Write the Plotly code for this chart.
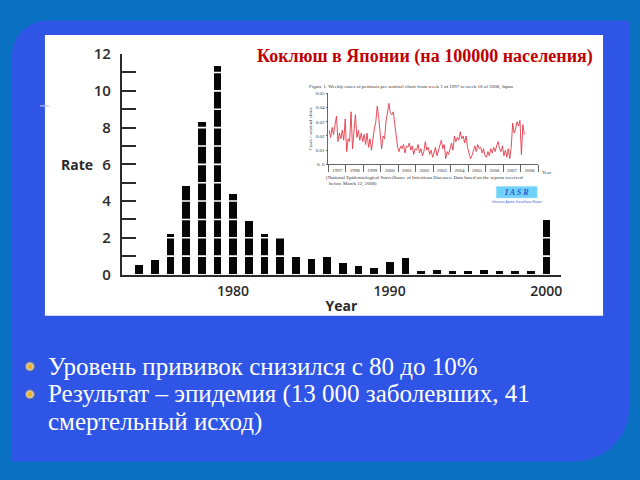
import plotly.graph_objects as go

W, H = 640, 480

# ---------------- data ----------------
bar_years = list(range(1974, 2001))
bar_rates = [0.5, 0.8, 2.2, 4.8, 8.3, 11.35, 4.4, 2.9, 2.2, 2.05,
             1.0, 0.85, 0.95, 0.6, 0.47, 0.37, 0.7, 0.87, 0.16, 0.24,
             0.16, 0.16, 0.26, 0.16, 0.16, 0.16, 2.95]
main_xticks = [1980, 1990, 2000]
rate_ticks = list(range(0, 13))
rate_labels = [str(v) if v % 2 == 0 else "" for v in rate_ticks]

# inset: cases per sentinel clinic, roughly monthly readings 1997-01 .. 2008-03
v1997 = [0.024, 0.019, 0.026, 0.021, 0.028, 0.034, 0.016, 0.022, 0.018, 0.024, 0.017, 0.032]
v1998 = [0.009, 0.018, 0.016, 0.037, 0.011, 0.022, 0.035, 0.019, 0.024, 0.017, 0.022, 0.016]
v1999 = [0.021, 0.014, 0.022, 0.012, 0.018, 0.010, 0.020, 0.025, 0.030, 0.041, 0.033, 0.022]
v2000 = [0.011, 0.020, 0.018, 0.030, 0.038, 0.043, 0.036, 0.035, 0.037, 0.028, 0.020, 0.012]
v2001 = [0.009, 0.013, 0.011, 0.014, 0.008, 0.013, 0.012, 0.015, 0.010, 0.013, 0.007, 0.011]
v2002 = [0.010, 0.014, 0.008, 0.011, 0.006, 0.009, 0.016, 0.010, 0.012, 0.007, 0.010, 0.005]
v2003 = [0.008, 0.012, 0.006, 0.010, 0.014, 0.017, 0.011, 0.014, 0.004, 0.009, 0.007, 0.012]
v2004 = [0.015, 0.010, 0.020, 0.016, 0.019, 0.017, 0.023, 0.018, 0.020, 0.015, 0.020, 0.012]
v2005 = [0.008, 0.004, 0.006, 0.010, 0.013, 0.009, 0.014, 0.011, 0.012, 0.008, 0.011, 0.006]
v2006 = [0.005, 0.009, 0.006, 0.011, 0.008, 0.012, 0.009, 0.013, 0.016, 0.011, 0.009, 0.013]
v2007 = [0.006, 0.010, 0.005, 0.011, 0.004, 0.012, 0.029, 0.022, 0.025, 0.030, 0.027, 0.031]
v2008 = [0.007, 0.028, 0.021]
inset_vals = v1997 + v1998 + v1999 + v2000 + v2001 + v2002 + v2003 + v2004 + v2005 + v2006 + v2007 + v2008
inset_start = 1997
inset_t = [inset_start + (i + 0.5) / 12 for i in range(len(inset_vals))]
inset_years = list(range(1997, 2009))
inset_yticks = [0, 0.01, 0.02, 0.03, 0.04, 0.05]
inset_ylabels = ["0. 0", "0.01", "0.02", "0.03", "0.04", "0.05"]

title_text = "Коклюш в Японии (на 100000 населения)"
fig_caption = "Figure 1. Weekly cases of pertussis per sentinel clinic from week 1 of 1997 to week 10 of 2008, Japan"
src_line1 = "(National Epidemiological Surveillance of Infectious Diseases: Data based on the reports received"
src_line2 = "before March 12, 2008)"
bullets = ["Уровень прививок снизился с 80 до 10%",
           "Результат – эпидемия (13 000 заболевших, 41",
           "смертельный исход)"]


def px(x):
    return x / W


def py(y):
    return 1 - y / H


# ---------------- figure ----------------
fig = go.Figure()
fig.add_trace(go.Bar(x=bar_years, y=bar_rates, width=0.5, marker=dict(color="#060606", line=dict(width=0)),
                     xaxis="x", yaxis="y", showlegend=False, hoverinfo="skip"))
fig.add_trace(go.Scatter(x=inset_t, y=inset_vals, mode="lines", line=dict(color="#e23a48", width=0.9),
                         xaxis="x2", yaxis="y2", showlegend=False, hoverinfo="skip"))

# background shapes
k = 0.5523
r1, r2 = 36, 55
L, T, R, B = 12, 10, 630, 470
pts = [
    ("M", [(L, T + r1)]),
    ("L", [(L, B)]),
    ("L", [(R - r2, B)]),
    ("C", [(R - r2 + k * r2, B), (R, B - r2 + k * r2), (R, B - r2)]),
    ("L", [(R, T)]),
    ("L", [(L + r1, T)]),
    ("C", [(L + r1 - k * r1, T), (L, T + r1 - k * r1), (L, T + r1)]),
]
path = ""
for cmd, ps in pts:
    path += cmd + " " + " ".join(f"{px(a):.5f},{py(b):.5f}" for a, b in ps) + " "
path += "Z"

shapes = [
    dict(type="path", path=path, xref="paper", yref="paper", fillcolor="#2f55e6", line=dict(width=0), layer="below"),
    dict(type="rect", xref="paper", yref="paper", x0=px(45), x1=px(604), y0=py(318), y1=py(25),
         fillcolor="#ffffff", line=dict(width=0), layer="below"),
    dict(type="line", xref="paper", yref="paper", x0=px(40), x1=px(49), y0=py(99), y1=py(99),
         line=dict(color="#b8c4ea", width=1.2), layer="above"),
    # IASR logo box
    dict(type="rect", xref="paper", yref="paper", x0=px(497), x1=px(538), y0=py(195), y1=py(183),
         fillcolor="#6fd0f8", line=dict(color="#a0e0ff", width=0.6), layer="above"),
]
# white unit lines crossing the bars (as in the original graphic), only as far as the bars reach
for v in rate_ticks[1:-1]:
    over = [yr for yr, r in zip(bar_years, bar_rates) if r > v]
    if not over:
        continue
    shapes.append(dict(type="line", xref="x", yref="y", x0=min(over) - 0.4, x1=max(over) + 0.4, y0=v, y1=v,
                       line=dict(color="#ffffff", width=1.6), layer="above"))
for by in [371, 400]:
    shapes.append(dict(type="circle", xref="paper", yref="paper", xsizemode="pixel", ysizemode="pixel",
                       xanchor=px(30), yanchor=py(by), x0=-4.5, x1=4.5, y0=-4.5, y1=4.5,
                       fillcolor="#cfc6b4", line=dict(color="#7a7468", width=0.8)))
    shapes.append(dict(type="circle", xref="paper", yref="paper", xsizemode="pixel", ysizemode="pixel",
                       xanchor=px(30), yanchor=py(by), x0=-2.4, x1=2.4, y0=-2.4, y1=2.4,
                       fillcolor="#f2b21c", line=dict(width=0)))

serif = "Liberation Serif"
annotations = [
    dict(text="<b>" + title_text + "</b>", x=px(426), y=py(48), xref="paper", yref="paper",
         showarrow=False, xanchor="center", yanchor="middle",
         font=dict(family=serif, size=18, color="#c00000")),
    dict(text="<b>Rate</b>", x=px(77), y=py(160), xref="paper", yref="paper",
         showarrow=False, xanchor="center", yanchor="middle",
         font=dict(family="Open Sans", size=14, color="#2a2a2a")),
    dict(text=fig_caption, x=px(307), y=py(79), xref="paper", yref="paper", showarrow=False,
         xanchor="left", yanchor="middle", font=dict(family=serif, size=5, color="#333333")),
    dict(text=src_line1, x=px(325), y=py(174), xref="paper", yref="paper", showarrow=False,
         xanchor="left", yanchor="middle", font=dict(family=serif, size=5, color="#333333")),
    dict(text=src_line2, x=px(328), y=py(181), xref="paper", yref="paper", showarrow=False,
         xanchor="left", yanchor="middle", font=dict(family=serif, size=5, color="#333333")),
    dict(text="Year", x=px(541), y=py(168), xref="paper", yref="paper", showarrow=False,
         xanchor="left", yanchor="middle", font=dict(family=serif, size=5, color="#333333")),
    dict(text="<b><i>I A S R</i></b>", x=px(517.5), y=py(189), xref="paper", yref="paper", showarrow=False,
         xanchor="center", yanchor="middle", font=dict(family=serif, size=8, color="#2a5bd0")),
    dict(text="Infectious Agents Surveillance Report", x=px(517.5), y=py(199), xref="paper", yref="paper",
         showarrow=False, xanchor="center", yanchor="middle", font=dict(family="Liberation Sans", size=3, color="#3a6ad8")),
]
for i, (t, by) in enumerate(zip(bullets, [371, 400, 429])):
    annotations.append(dict(text=t, x=px(46), y=py(by), xref="paper", yref="paper", showarrow=False,
                            xanchor="left", yanchor="middle",
                            font=dict(family=serif, size=25, color="#ffffff")))

fig.update_layout(
    width=W, height=H,
    margin=dict(l=0, r=0, t=0, b=0),
    paper_bgcolor="#0a70c2",
    plot_bgcolor="rgba(0,0,0,0)",
    showlegend=False,
    bargap=0,
    shapes=shapes,
    annotations=annotations,
    xaxis=dict(domain=[px(122), px(562)], range=[1972.9, 2000.95], tickmode="array", tickvals=main_xticks,
               ticks="", showline=True, linecolor="#2a2a2a", linewidth=2, showgrid=False, zeroline=False,
               tickfont=dict(family="Open Sans", size=14, color="#2a2a2a", weight=600),
               ticklabelstandoff=3, layer="above traces", anchor="y",
               title=dict(text="<b>Year</b>", font=dict(family="Open Sans", size=14, color="#2a2a2a"), standoff=2)),
    yaxis=dict(domain=[py(275), py(45)], range=[0, 12], tickmode="array", tickvals=rate_ticks, ticktext=rate_labels,
               ticks="inside", ticklen=14, tickwidth=2, tickcolor="#2a2a2a",
               showline=True, linecolor="#2a2a2a", linewidth=2,
               showgrid=False, zeroline=False,
               tickfont=dict(family="Open Sans", size=15, color="#2a2a2a", weight=600),
               ticklabelstandoff=6, layer="above traces", anchor="x"),
    xaxis2=dict(domain=[px(329), px(539)], range=[1997, 2009], tickmode="array",
                tickvals=[y + 0.5 for y in inset_years], ticktext=[str(y) for y in inset_years],
                ticks="", showline=True, linecolor="#666666", linewidth=0.8, showgrid=False, zeroline=False,
                minor=dict(tickmode="array", tickvals=list(range(1997, 2010)), ticks="outside", ticklen=7,
                           tickwidth=0.6, tickcolor="#666666", showgrid=False),
                tickfont=dict(family=serif, size=5, color="#333333"), ticklabelstandoff=1, anchor="y2"),
    yaxis2=dict(domain=[py(160), py(86)], range=[0, 0.05], tickmode="array", tickvals=inset_yticks,
                ticktext=inset_ylabels, ticks="outside", ticklen=2, tickwidth=0.6, tickcolor="#666666",
                showline=True, linecolor="#666666", linewidth=0.8, showgrid=False, zeroline=False,
                tickfont=dict(family=serif, size=5, color="#333333"), anchor="x2",
                title=dict(text="Cases / sentinel clinic", font=dict(family=serif, size=5, color="#333333"), standoff=3)),
)

fig.write_html("out.html")
